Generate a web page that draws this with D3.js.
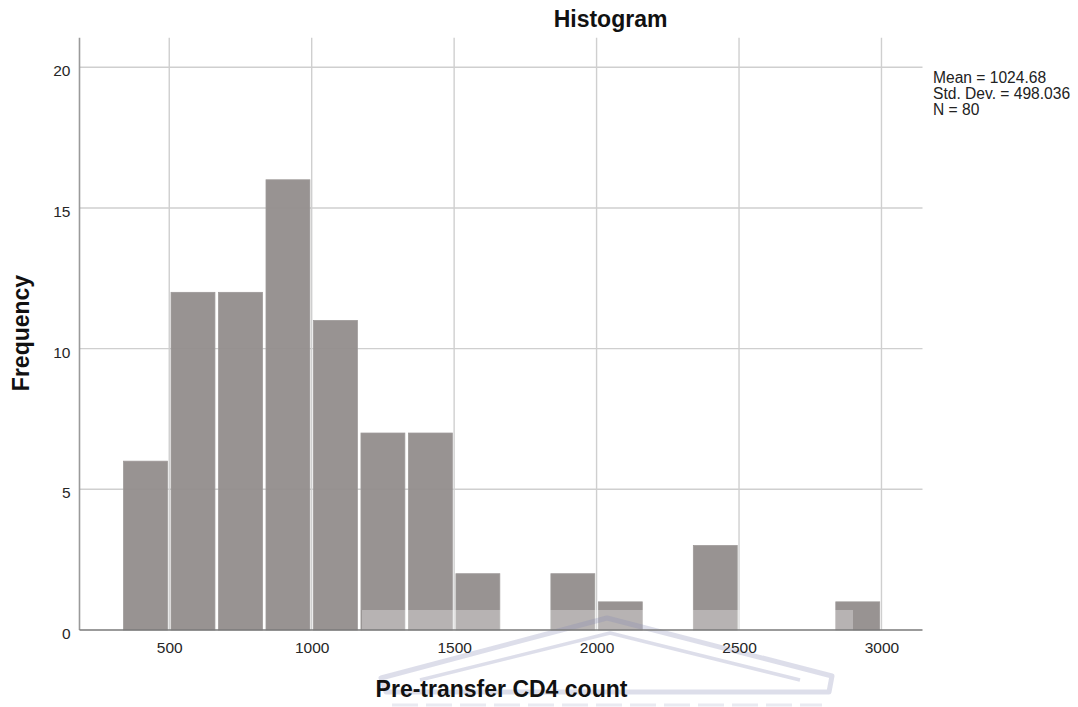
<!DOCTYPE html>
<html>
<head>
<meta charset="utf-8">
<script src="https://cdn.jsdelivr.net/npm/d3@7/dist/d3.min.js"></script>
<style>
  html, body { margin: 0; padding: 0; background: #fff; }
  svg { display: block; font-family: Arial, "Liberation Sans", sans-serif; }
</style>
</head>
<body>
<svg id="chart" width="1078" height="707"></svg>
<script>
// Histogram of pre-transfer CD4 counts (N = 80)
const binStarts = [333.33, 500, 666.67, 833.33, 1000, 1166.67, 1333.33, 1500,
                   1666.67, 1833.33, 2000, 2166.67, 2333.33, 2500, 2666.67, 2833.33];
const binWidth = 166.67;
const counts = [6, 12, 12, 16, 11, 7, 7, 2, 0, 2, 1, 0, 3, 0, 0, 1];
const xTicks = [500, 1000, 1500, 2000, 2500, 3000];
const yTicks = [0, 5, 10, 15, 20];
const statsLines = ["Mean = 1024.68", "Std. Dev. = 498.036", "N = 80"];
const chartTitle = "Histogram";
const xTitle = "Pre-transfer CD4 count";
const yTitle = "Frequency";

const svg = d3.select("#chart");
const plot = { left: 79.5, right: 922.5, top: 37.7, bottom: 630 };

const x = d3.scaleLinear().domain([185, 3144]).range([plot.left, plot.right]);
const y = d3.scaleLinear().domain([0, 21.05]).range([plot.bottom, plot.top]);

// Grid lines
const grid = svg.append("g").attr("stroke", "#cfcfcf").attr("stroke-width", 1.4);
grid.selectAll("line.h").data(yTicks.filter(d => d > 0)).join("line")
  .attr("class", "h")
  .attr("x1", plot.left).attr("x2", plot.right)
  .attr("y1", d => y(d)).attr("y2", d => y(d));
grid.selectAll("line.v").data(xTicks).join("line")
  .attr("class", "v")
  .attr("x1", d => x(d)).attr("x2", d => x(d))
  .attr("y1", plot.top).attr("y2", plot.bottom);

// Bars
const bins = binStarts.map((s, i) => ({ x0: s, x1: s + binWidth, n: counts[i] }))
  .filter(b => b.n > 0);
svg.append("g").selectAll("rect").data(bins).join("rect")
  .attr("x", d => x(d.x0) + 1.8)
  .attr("width", d => x(d.x1) - x(d.x0) - 3.6)
  .attr("y", d => y(d.n))
  .attr("height", d => y(0) - y(d.n))
  .attr("fill", "#948f8e")
  .attr("fill-opacity", 0.96)
  .attr("stroke", "#9d9998")
  .attr("stroke-width", 0.8);

// Faint crest watermark along the bottom (drawn beneath the axes and text)
const wm = svg.append("g");
wm.append("rect").attr("x", 362).attr("y", 610).attr("width", 491).attr("height", 97)
  .attr("fill", "#fff").attr("fill-opacity", 0.3);
const roof = wm.append("g").attr("fill", "none").attr("stroke", "#8488b4")
  .attr("stroke-opacity", 0.28).attr("stroke-linejoin", "round");
roof.append("path").attr("stroke-width", 5)
  .attr("d", "M381,678 L607,618 L832,676 L829,692 L386,692 Z");
roof.append("path").attr("stroke-width", 3.5)
  .attr("d", "M420,680 L610,633 L800,680");
roof.append("path").attr("stroke-width", 3).attr("stroke-dasharray", "26 8")
  .attr("stroke-opacity", 0.18)
  .attr("d", "M392,705 H822");

// Axes
const yAxis = svg.append("g").attr("transform", `translate(${plot.left},0)`)
  .call(d3.axisLeft(y).tickValues(yTicks).tickFormat(d3.format("d")).tickSize(0).tickPadding(9));
yAxis.select(".domain").attr("stroke", "#9a9a9a").attr("stroke-width", 1.6)
  .attr("d", `M0,${plot.top}V${plot.bottom}`);
yAxis.selectAll("text").attr("font-size", 15.5).attr("fill", "#262626")
  .attr("font-family", "Arial, 'Liberation Sans', sans-serif").attr("dy", "0.55em");

const xAxis = svg.append("g").attr("transform", `translate(0,${plot.bottom})`)
  .call(d3.axisBottom(x).tickValues(xTicks).tickFormat(d3.format("d")).tickSize(0).tickPadding(12));
xAxis.select(".domain").attr("stroke", "#7a7a7a").attr("stroke-width", 1.6)
  .attr("d", `M${plot.left},0H${plot.right}`);
xAxis.selectAll("text").attr("font-size", 15.5).attr("fill", "#262626")
  .attr("font-family", "Arial, 'Liberation Sans', sans-serif");

// Titles
svg.append("text").attr("x", 610.5).attr("y", 27).attr("text-anchor", "middle")
  .attr("font-size", 23).attr("font-weight", "bold").attr("fill", "#111")
  .text(chartTitle);
svg.append("text").attr("x", 501.5).attr("y", 697).attr("text-anchor", "middle")
  .attr("font-size", 23).attr("font-weight", "bold").attr("fill", "#111")
  .text(xTitle);
svg.append("text").attr("transform", "translate(28.5,333) rotate(-90)")
  .attr("text-anchor", "middle")
  .attr("font-size", 23).attr("font-weight", "bold").attr("fill", "#111")
  .text(yTitle);

// Summary statistics
svg.append("g").selectAll("text").data(statsLines).join("text")
  .attr("x", 933).attr("y", (d, i) => 83.3 + i * 15.9)
  .attr("font-size", 15.6).attr("fill", "#222")
  .text(d => d);
</script>
</body>
</html>
